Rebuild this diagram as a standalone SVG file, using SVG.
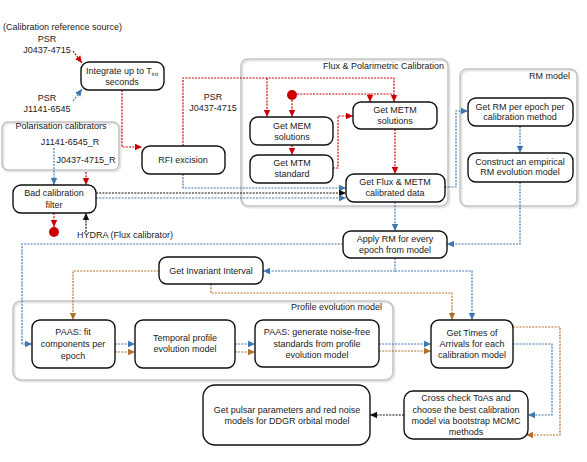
<svg xmlns="http://www.w3.org/2000/svg" width="587" height="462" viewBox="0 0 587 462">
<style>
text{font-family:"Liberation Sans",Arial,sans-serif;font-size:9px;fill:#222}
.c{text-anchor:middle}
.e{text-anchor:end}
.node{fill:#fff;stroke:#111;stroke-width:1.4}
.grp{fill:none;stroke:#c4c4c4;stroke-width:1.6}
.grs{fill:none;stroke:#e6e6e6;stroke-width:2}
.cn{fill:none;stroke-width:1.2;stroke-dasharray:2 1.2}
.r{stroke:#cc0000}
.b{stroke:#3f76b0}
.k{stroke:#111}
.o{stroke:#b2702f}
</style>
<defs>
<marker id="ar" markerUnits="userSpaceOnUse" markerWidth="8" markerHeight="8" refX="7" refY="4" orient="auto"><path d="M0,0.8 L7,4 L0,7.2 Z" fill="#cc0000"/></marker>
<marker id="ab" markerUnits="userSpaceOnUse" markerWidth="8" markerHeight="8" refX="7" refY="4" orient="auto"><path d="M0,0.8 L7,4 L0,7.2 Z" fill="#3f76b0"/></marker>
<marker id="ak" markerUnits="userSpaceOnUse" markerWidth="8" markerHeight="8" refX="7" refY="4" orient="auto"><path d="M0,0.8 L7,4 L0,7.2 Z" fill="#111"/></marker>
<marker id="ao" markerUnits="userSpaceOnUse" markerWidth="8" markerHeight="8" refX="7" refY="4" orient="auto"><path d="M0,0.8 L7,4 L0,7.2 Z" fill="#b2702f"/></marker>
</defs>

<g id="groups">
<g id="grp-polcal"><rect class="grs" x="3.5" y="123.5" width="117" height="48" rx="6"/><rect class="grp" x="2" y="122" width="117" height="48" rx="6"/><text class="c" x="61" y="129">Polarisation calibrators</text></g>
<g id="grp-flux"><rect class="grs" x="242.5" y="60.5" width="207" height="147" rx="7"/><rect class="grp" x="241" y="59" width="207" height="147" rx="7"/><text class="e" x="444" y="69">Flux &amp; Polarimetric Calibration</text></g>
<g id="grp-rm"><rect class="grs" x="461.5" y="70.5" width="117" height="137" rx="7"/><rect class="grp" x="460" y="69" width="117" height="137" rx="7"/><text class="e" x="570" y="79">RM model</text></g>
<g id="grp-profile"><rect class="grs" x="14.5" y="302.5" width="380" height="79" rx="8"/><rect class="grp" x="13" y="301" width="380" height="79" rx="8"/><text class="e" x="382" y="310">Profile evolution model</text></g>
</g>

<g id="connectors">
<path class="cn r" d="M73,51 L82,63" marker-end="url(#ar)"/>
<path class="cn b" d="M73,101 L82,89" marker-end="url(#ab)"/>
<path class="cn r" d="M122,90 V147 H142" marker-end="url(#ar)"/>
<path class="cn r" d="M183,146 V78 H394 V102" marker-end="url(#ar)"/>
<path class="cn r" d="M267,78 V117" marker-end="url(#ar)"/>
<path class="cn r" d="M292,100 V117" marker-end="url(#ar)"/>
<path class="cn r" d="M297,94 H394"/>
<path class="cn r" d="M370,94 V102" marker-end="url(#ar)"/>
<path class="cn r" d="M292,145 V155" marker-end="url(#ar)"/>
<path class="cn r" d="M333,168 H338 V116 H353" marker-end="url(#ar)"/>
<path class="cn r" d="M395,129 V174" marker-end="url(#ar)"/>
<path class="cn r" d="M86,172 V185" marker-end="url(#ar)"/>
<path class="cn r" d="M54,213 V227" marker-end="url(#ar)"/>
<path class="cn b" d="M54,148 V185" marker-end="url(#ab)"/>
<path class="cn b" d="M183,174 V188 H346" marker-end="url(#ab)"/>
<path class="cn k" d="M96,193 H346" marker-end="url(#ak)"/>
<path class="cn b" d="M96,198 H346" marker-end="url(#ab)"/>
<path class="cn k" d="M86,232 V213" marker-end="url(#ak)"/>
<path class="cn b" d="M445,187 H456 V111 H468" marker-end="url(#ab)"/>
<path class="cn b" d="M520,126 V153" marker-end="url(#ab)"/>
<path class="cn b" d="M520,182 V244 H447" marker-end="url(#ab)"/>
<path class="cn b" d="M395,202 V231" marker-end="url(#ab)"/>
<path class="cn b" d="M343,244 H22 V344 H32" marker-end="url(#ab)"/>
<path class="cn b" d="M395,258 V271 H263" marker-end="url(#ab)"/>
<path class="cn b" d="M395,271 H472 V320" marker-end="url(#ab)"/>
<path class="cn o" d="M159,271 H73 V320" marker-end="url(#ao)"/>
<path class="cn o" d="M211,284 V293 H452 V320" marker-end="url(#ao)"/>
<path class="cn b" d="M115,344 H135" marker-end="url(#ab)"/>
<path class="cn o" d="M115,352 H135" marker-end="url(#ao)"/>
<path class="cn b" d="M235,344 H255" marker-end="url(#ab)"/>
<path class="cn o" d="M235,352 H255" marker-end="url(#ao)"/>
<path class="cn b" d="M379,344 H431" marker-end="url(#ab)"/>
<path class="cn o" d="M379,351 H431" marker-end="url(#ao)"/>
<path class="cn b" d="M513,344 H552 V415 H528" marker-end="url(#ab)"/>
<path class="cn o" d="M513,327 H560 V435 H526" marker-end="url(#ao)"/>
<path class="cn k" d="M404,415 H370" marker-end="url(#ak)"/>
</g>

<g id="labels">
<text x="3" y="30">(Calibration reference source)</text>
<text class="c" x="47" y="42">PSR</text>
<text class="c" x="47" y="53">J0437-4715</text>
<text class="c" x="47" y="101">PSR</text>
<text class="c" x="47" y="112">J1141-6545</text>
<text class="c" x="70" y="145">J1141-6545_R</text>
<text class="c" x="86" y="163">J0437-4715_R</text>
<text x="77" y="238">HYDRA (Flux calibrator)</text>
<text class="c" x="213" y="100">PSR</text>
<text class="c" x="213" y="111">J0437-4715</text>
</g>

<g id="dot-ref"><circle cx="292" cy="95" r="5" fill="#cc0000"/></g>
<g id="dot-bad"><circle cx="54" cy="232" r="5" fill="#cc0000"/></g>

<g id="n-integrate"><rect class="node" x="81" y="62" width="83" height="28" rx="8"/><text class="c" x="122" y="74">Integrate up to T<tspan font-size="6" dy="2">int</tspan></text><text class="c" x="122" y="85">seconds</text></g>
<g id="n-badcal"><rect class="node" x="13" y="185" width="83" height="28" rx="8"/><text class="c" x="54" y="196">Bad calibration</text><text class="c" x="54" y="208">filter</text></g>
<g id="n-rfi"><rect class="node" x="142" y="146" width="83" height="28" rx="8"/><text class="c" x="183" y="163">RFI excision</text></g>
<g id="n-mem"><rect class="node" x="250" y="117" width="83" height="28" rx="8"/><text class="c" x="292" y="129">Get MEM</text><text class="c" x="292" y="140">solutions</text></g>
<g id="n-mtm"><rect class="node" x="250" y="155" width="83" height="28" rx="8"/><text class="c" x="292" y="166">Get MTM</text><text class="c" x="292" y="177">standard</text></g>
<g id="n-metm"><rect class="node" x="353" y="102" width="84" height="27" rx="8"/><text class="c" x="395" y="113">Get METM</text><text class="c" x="395" y="124">solutions</text></g>
<g id="n-flux"><rect class="node" x="346" y="174" width="99" height="28" rx="8"/><text class="c" x="395" y="185">Get Flux &amp; METM</text><text class="c" x="395" y="196">calibrated data</text></g>
<g id="n-getrm"><rect class="node" x="468" y="98" width="105" height="28" rx="8"/><text class="c" x="520" y="110">Get RM per epoch per</text><text class="c" x="520" y="120">calibration method</text></g>
<g id="n-construct"><rect class="node" x="468" y="153" width="105" height="29" rx="8"/><text class="c" x="520" y="165">Construct an empirical</text><text class="c" x="520" y="175">RM evolution model</text></g>
<g id="n-apply"><rect class="node" x="343" y="231" width="104" height="27" rx="8"/><text class="c" x="395" y="242">Apply RM for every</text><text class="c" x="395" y="253">epoch from model</text></g>
<g id="n-invariant"><rect class="node" x="159" y="257" width="104" height="27" rx="8"/><text class="c" x="211" y="274">Get Invariant Interval</text></g>
<g id="n-paasfit"><rect class="node" x="32" y="320" width="83" height="48" rx="8"/><text class="c" x="73" y="335">PAAS: fit</text><text class="c" x="73" y="347">components per</text><text class="c" x="73" y="359">epoch</text></g>
<g id="n-temporal"><rect class="node" x="135" y="320" width="100" height="48" rx="8"/><text class="c" x="185" y="341">Temporal profile</text><text class="c" x="185" y="352">evolution model</text></g>
<g id="n-paasgen"><rect class="node" x="255" y="320" width="124" height="47" rx="8"/><text class="c" x="317" y="335">PAAS: generate noise-free</text><text class="c" x="317" y="347">standards from profile</text><text class="c" x="317" y="358">evolution model</text></g>
<g id="n-toa"><rect class="node" x="431" y="320" width="82" height="48" rx="8"/><text class="c" x="472" y="336">Get Times of</text><text class="c" x="472" y="347">Arrivals for each</text><text class="c" x="472" y="358">calibration model</text></g>
<g id="n-cross"><rect class="node" x="404" y="391" width="124" height="48" rx="9"/><text class="c" x="466" y="401">Cross check ToAs and</text><text class="c" x="466" y="413">choose the best calibration</text><text class="c" x="466" y="424">model via bootstrap MCMC</text><text class="c" x="466" y="435">methods</text></g>
<g id="n-pulsar"><rect class="node" x="203" y="385" width="167" height="60" rx="12"/><text class="c" x="287" y="413">Get pulsar parameters and red noise</text><text class="c" x="287" y="424">models for DDGR orbital model</text></g>
</svg>
